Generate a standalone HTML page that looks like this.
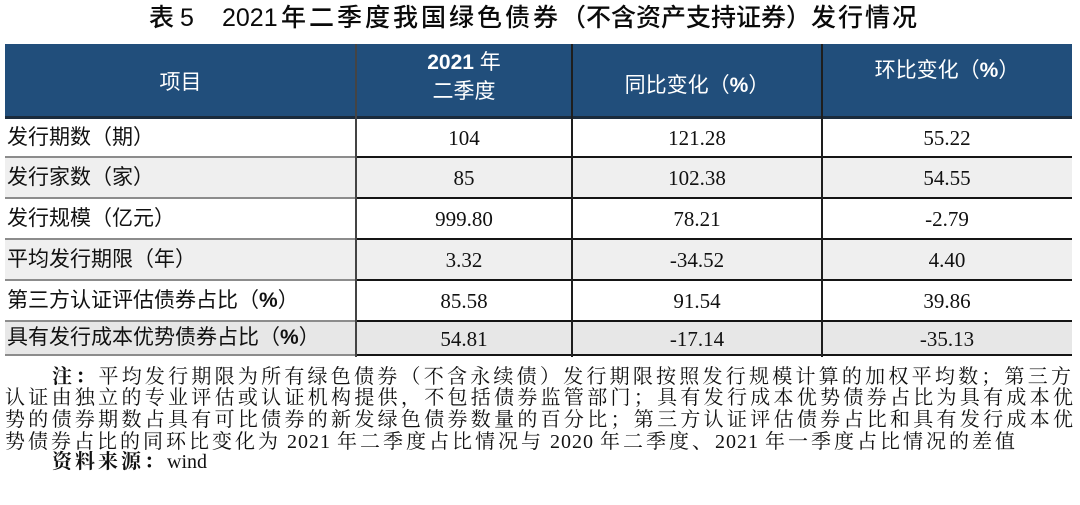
<!DOCTYPE html>
<html><head><meta charset="utf-8">
<style>
*{margin:0;padding:0;box-sizing:border-box}
body{width:1080px;height:505px;background:#fff;position:relative;overflow:hidden;font-family:"Liberation Sans","Noto Sans CJK SC",sans-serif;color:#111}
.a{position:absolute;white-space:nowrap}
.title{font-size:25px;line-height:36px;top:0;color:#0a0a0a;font-weight:500}
.hdr{position:absolute;left:5px;top:44px;width:1067px;height:74px;background:#214e7b}
.hb{position:absolute;left:5px;top:116px;width:1067px;height:3px;background:#1b2b3c}
.ht{position:absolute;color:#fff;font-size:21px;line-height:24px;text-align:center;white-space:nowrap}
.bg{position:absolute;left:5px;width:1067px}
.gl{position:absolute;left:5px;width:351px;height:2px;background:#8c8c8c}
.bl{position:absolute;left:356px;width:716px;height:2px;background:#151515}
.vl{position:absolute;top:44px;height:313px;width:2px;background:#1e1e1e}
.lbl{position:absolute;left:7px;font-size:21px;line-height:24px;white-space:nowrap;color:#111}
.num{position:absolute;font-family:"Liberation Serif","Noto Serif CJK SC",serif;font-size:21px;line-height:24px;text-align:center;white-space:nowrap;color:#111}
.fn{position:absolute;font-family:"Liberation Serif","Noto Serif CJK SC",serif;font-size:20px;line-height:22px;letter-spacing:3px;white-space:nowrap;color:#111}
.j{text-align:justify;text-align-last:justify}
.d{letter-spacing:1px}
b{font-weight:bold}
</style></head><body>

<div class="a title" style="left:149px;letter-spacing:6px">表<span style="font-weight:normal">5</span></div>
<div class="a title" style="left:222px;font-weight:normal">2021</div>
<div class="a title" style="left:281px"><span style="letter-spacing:3px">年二季度我国绿色债券</span><span>（不含资产支持证券）</span><span style="letter-spacing:2px">发行情况</span></div>

<div class="hdr"></div>
<div class="hb"></div>

<div class="bg" style="top:119px;height:38px;background:#ffffff"></div>
<div class="bg" style="top:158px;height:40px;background:#efefef"></div>
<div class="bg" style="top:199px;height:40px;background:#ffffff"></div>
<div class="bg" style="top:240px;height:40px;background:#efefef"></div>
<div class="bg" style="top:281px;height:40px;background:#ffffff"></div>
<div class="bg" style="top:322px;height:33px;background:#e7e7e7"></div>

<div class="gl" style="top:156px"></div><div class="bl" style="top:156px"></div>
<div class="gl" style="top:197px"></div><div class="bl" style="top:197px"></div>
<div class="gl" style="top:238px"></div><div class="bl" style="top:238px"></div>
<div class="gl" style="top:279px"></div><div class="bl" style="top:279px"></div>
<div class="gl" style="top:320px"></div><div class="bl" style="top:320px"></div>
<div class="gl" style="top:354px"></div><div class="bl" style="top:354px"></div>

<div class="vl" style="left:355px;background:#444"></div>
<div class="vl" style="left:571px"></div>
<div class="vl" style="left:821px"></div>

<div class="ht" style="left:5px;width:351px;top:71px">项目</div>
<div class="ht" style="left:356px;width:216px;top:51px"><b>2021</b> 年</div>
<div class="ht" style="left:356px;width:216px;top:80px">二季度</div>
<div class="ht" style="left:572px;width:250px;top:74px">同比变化（<b>%</b>）</div>
<div class="ht" style="left:822px;width:250px;top:59px">环比变化（<b>%</b>）</div>

<div class="lbl" style="top:126px">发行期数（期）</div>
<div class="lbl" style="top:166px">发行家数（家）</div>
<div class="lbl" style="top:207px">发行规模（亿元）</div>
<div class="lbl" style="top:248px">平均发行期限（年）</div>
<div class="lbl" style="top:289px">第三方认证评估债券占比（<b>%</b>）</div>
<div class="lbl" style="top:326px">具有发行成本优势债券占比（<b>%</b>）</div>

<div class="num" style="left:356px;width:216px;top:126px">104</div>
<div class="num" style="left:572px;width:250px;top:126px">121.28</div>
<div class="num" style="left:822px;width:250px;top:126px">55.22</div>

<div class="num" style="left:356px;width:216px;top:166px">85</div>
<div class="num" style="left:572px;width:250px;top:166px">102.38</div>
<div class="num" style="left:822px;width:250px;top:166px">54.55</div>

<div class="num" style="left:356px;width:216px;top:207px">999.80</div>
<div class="num" style="left:572px;width:250px;top:207px">78.21</div>
<div class="num" style="left:822px;width:250px;top:207px">-2.79</div>

<div class="num" style="left:356px;width:216px;top:248px">3.32</div>
<div class="num" style="left:572px;width:250px;top:248px">-34.52</div>
<div class="num" style="left:822px;width:250px;top:248px">4.40</div>

<div class="num" style="left:356px;width:216px;top:289px">85.58</div>
<div class="num" style="left:572px;width:250px;top:289px">91.54</div>
<div class="num" style="left:822px;width:250px;top:289px">39.86</div>

<div class="num" style="left:356px;width:216px;top:327px">54.81</div>
<div class="num" style="left:572px;width:250px;top:327px">-17.14</div>
<div class="num" style="left:822px;width:250px;top:327px">-35.13</div>

<div class="fn j" style="left:52px;width:1022px;top:366px"><b>注：</b>平均发行期限为所有绿色债券（不含永续债）发行期限按照发行规模计算的加权平均数；第三方</div>
<div class="fn j" style="left:5px;width:1071px;top:387px">认证由独立的专业评估或认证机构提供，不包括债券监管部门；具有发行成本优势债券占比为具有成本优</div>
<div class="fn j" style="left:5px;width:1071px;top:409px">势的债券期数占具有可比债券的新发绿色债券数量的百分比；第三方认证评估债券占比和具有发行成本优</div>
<div class="fn" style="left:5px;top:431px">势债券占比的同环比变化为<span class="d"> 2021 </span>年二季度占比情况与<span class="d"> 2020 </span>年二季度、<span class="d">2021 </span>年一季度占比情况的差值</div>
<div class="fn" style="left:52px;top:451px"><b>资料来源：</b><span style="letter-spacing:0">wind</span></div>

</body></html>
